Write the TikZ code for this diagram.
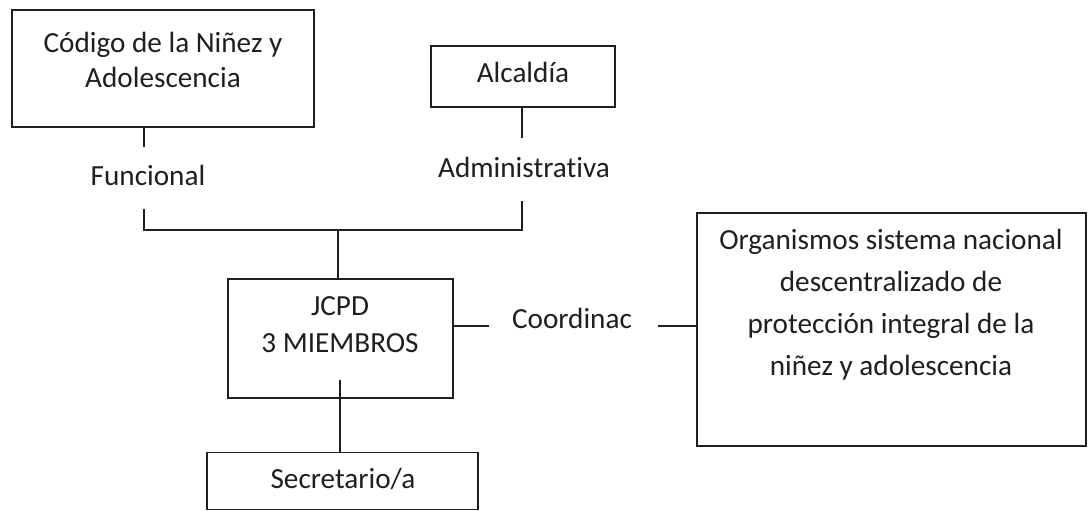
\documentclass[tikz,border=0pt]{standalone}
\usepackage{fontspec}
\setmainfont{Carlito}[Ligatures=NoCommon]
\definecolor{ink}{gray}{0.12}
\begin{document}
\begin{tikzpicture}[x=1pt,y=-1pt,
  box/.style={draw=ink, line width=1.3pt, inner sep=0pt},
  txt/.style={text=ink, font=\fontsize{29.2}{#1}\selectfont, align=center, inner sep=0pt, anchor=base},
  txt/.default=35,
  conn/.style={draw=ink, line width=1.3pt}]
\fill[white] (0,0) rectangle (1088,511);
\useasboundingbox (0,0) rectangle (1088,511);
% boxes
\node[box, minimum width=302pt, minimum height=117pt] (codigo) at (163,68.5) {};
\node[box, minimum width=184pt, minimum height=61pt] (alcaldia) at (523,76.5) {};
\node[box, minimum width=225pt, minimum height=119pt] (jcpd) at (340.5,338.5) {};
\node[box, minimum width=271pt, minimum height=57pt] (secr) at (342.5,481) {};
\node[box, minimum width=389pt, minimum height=233pt] (org) at (891.5,329.5) {};
% texts (anchor=base is the last line's baseline)
\node[txt=35] (codigoT) at (163,88) {Código de la Niñez y\\Adolescencia};
\node[txt] (alcaldiaT) at (523,83) {Alcaldía};
\node[txt] (fun) at (148,185) {Funcional};
\node[txt] (adm) at (524,177) {Administrativa};
\node[txt=37] (jcpdT) at (340,352) {JCPD\\3 MIEMBROS};
\node[txt] (secrT) at (343,488) {Secretario/a};
\node[txt] (coord) at (572,328) {Coordinac};
\node[txt=41.7] (orgT) at (891,375) {Organismos sistema nacional\\descentralizado de\\protección integral de la\\niñez y adolescencia};
% connector points
\coordinate (f1) at (144,147);
\coordinate (f2) at (144,209);
\coordinate (jL) at (144,230);
\coordinate (jM) at (338,230);
\coordinate (jR) at (522,230);
\coordinate (a1) at (522,138);
\coordinate (a2) at (522,201);
\coordinate (c1) at (489,326);
\coordinate (c2) at (658,326);
\coordinate (s1) at (340,380);
% connectors
\draw[conn] (codigo.south -| f1) -- (f1);
\draw[conn] (alcaldia.south -| a1) -- (a1);
\draw[conn] (f2) -- (jL) -- (jR) -- (a2);
\draw[conn] (jM) -- (jM |- jcpd.north);
\draw[conn] (jcpd.east |- c1) -- (c1);
\draw[conn] (c2) -- (c2 -| org.west);
\draw[conn] (s1) -- (s1 |- secr.north);
\end{tikzpicture}
\end{document}
